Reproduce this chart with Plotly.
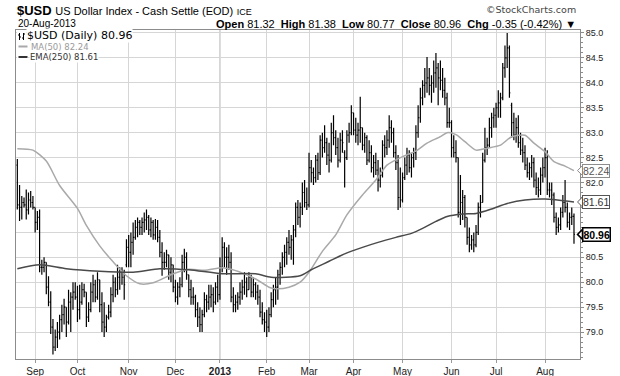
import pandas as pd
import plotly.graph_objects as go

# ---------------- data ----------------
holidays = ["2012-09-03", "2012-11-22", "2012-12-25", "2013-01-01", "2013-01-21",
            "2013-02-18", "2013-03-29", "2013-05-27", "2013-07-04"]
dates = pd.bdate_range("2012-08-22", "2013-08-20")
dates = dates[~dates.isin(pd.to_datetime(holidays))]

opens = [
    82.35, 81.55, 81.5, 81.6, 81.55, 81.45, 81.65, 81.6, 81.5, 81.2,
    81.3, 80.3, 80.3, 80.4, 79.9, 79.6, 79.1, 78.7, 78.9, 79.0,
    79.25, 79.35, 79.5, 79.2, 79.6, 79.7, 79.8, 79.7, 79.45, 79.6,
    79.85, 79.8, 79.3, 79.45, 79.8, 79.95, 79.7, 80.05, 79.55, 79.2,
    79.1, 79.3, 79.4, 79.75, 80.0, 79.85, 80.1, 80.2, 80.1, 80.35,
    80.7, 80.6, 80.8, 80.9, 81.1, 81.2, 81.1, 81.2, 81.25, 81.3,
    81.05, 81.2, 80.95, 81.1, 80.9, 80.6, 80.4, 80.4, 80.55, 80.2,
    80.35, 79.9, 79.7, 79.9, 79.95, 80.4, 80.5, 80.15, 79.85, 79.7,
    79.7, 79.45, 79.3, 79.15, 79.35, 79.65, 79.6, 79.7, 79.75, 79.6,
    79.9, 79.75, 80.3, 80.7, 80.5, 80.5, 80.4, 79.7, 79.55, 79.6,
    79.7, 79.8, 79.9, 80.0, 79.85, 80.1, 79.8, 79.95, 79.8, 79.7,
    79.4, 79.25, 79.2, 79.1, 79.35, 79.65, 79.85, 79.9, 80.15, 80.3,
    80.5, 80.6, 80.8, 80.7, 80.85, 81.05, 81.5, 81.3, 81.5, 81.8,
    81.6, 81.55, 82.3, 82.2, 82.1, 82.45, 82.2, 82.85, 82.7, 82.8,
    82.55, 82.45, 83.0, 82.9, 82.7, 82.45, 82.85, 82.6, 82.5, 82.95,
    83.0, 83.4, 83.05, 82.95, 83.05, 83.1, 82.75, 82.9, 82.45, 82.6,
    82.3, 82.4, 82.25, 82.05, 82.15, 82.75, 82.7, 82.85, 83.1, 83.0,
    82.6, 82.4, 81.7, 81.65, 82.1, 82.35, 82.55, 82.3, 82.5, 82.6,
    83.0, 83.3, 83.7, 83.95, 84.0, 84.1, 83.95, 84.0, 84.2, 84.3,
    84.1, 84.05, 83.85, 83.7, 83.2, 83.2, 82.7, 82.6, 82.5, 81.4,
    81.6, 81.7, 81.3, 80.9, 80.75, 80.85, 80.75, 81.0, 81.5, 81.6,
    82.45, 82.7, 82.75, 83.1, 83.3, 83.35, 83.5, 83.6, 83.7, 84.3,
    84.5, 84.7, 83.55, 83.2, 82.95, 83.1, 82.8, 82.65, 82.6, 82.35,
    82.2, 82.3, 82.4, 82.05, 81.9, 81.85, 82.15, 82.3, 82.5, 81.85,
    81.85, 81.75, 81.3, 81.1, 81.15, 81.4, 81.6, 81.5, 81.2, 81.3,
    81.32,
]
highs = [
    82.47, 81.95, 81.73, 81.7, 81.86, 81.8, 81.83, 81.73, 81.5, 81.43,
    81.46, 80.45, 80.5, 80.4, 80.12, 79.82, 79.26, 79.05, 79.2, 79.35,
    79.55, 79.67, 79.5, 79.85, 79.8, 80.0, 80.0, 79.93, 79.95, 80.0,
    79.97, 79.8, 79.6, 80.0, 80.15, 80.05, 80.2, 80.05, 79.8, 79.6,
    79.35, 79.55, 79.9, 80.15, 80.1, 80.35, 80.3, 80.3, 80.25, 80.86,
    80.95, 81.0, 81.2, 81.25, 81.3, 81.25, 81.3, 81.4, 81.46, 81.35,
    81.3, 81.25, 81.27, 81.25, 81.05, 80.8, 80.6, 80.65, 80.55, 80.5,
    80.35, 80.05, 80.0, 80.1, 80.55, 80.67, 80.6, 80.15, 80.05, 79.9,
    79.75, 79.6, 79.5, 79.45, 79.8, 79.75, 79.95, 79.95, 79.9, 80.0,
    80.15, 80.5, 80.9, 80.8, 80.7, 80.75, 80.6, 79.9, 79.75, 79.8,
    80.0, 80.05, 80.2, 80.1, 80.2, 80.15, 80.1, 80.0, 79.95, 79.85,
    79.6, 79.4, 79.45, 79.5, 79.8, 79.95, 80.1, 80.25, 80.4, 80.6,
    80.75, 80.9, 81.05, 80.95, 81.15, 81.6, 81.65, 81.6, 82.0, 82.05,
    81.9, 82.6, 82.45, 82.3, 82.55, 82.6, 82.95, 83.0, 83.15, 82.9,
    82.8, 83.2, 83.35, 83.05, 82.9, 83.0, 83.05, 82.65, 83.05, 83.2,
    83.55, 83.4, 83.3, 83.2, 83.72, 83.1, 83.0, 82.95, 82.85, 82.75,
    82.55, 82.6, 82.45, 82.3, 82.85, 82.95, 83.05, 83.35, 83.25, 83.1,
    82.75, 82.55, 82.3, 82.2, 82.5, 82.7, 82.65, 82.6, 82.7, 83.15,
    83.55, 83.9, 84.05, 84.3, 84.52, 84.3, 84.15, 84.45, 84.6, 84.4,
    84.45, 84.3, 84.1, 83.8, 83.5, 83.25, 82.95, 82.85, 82.5, 82.15,
    81.85, 81.75, 81.3, 81.1, 80.95, 81.0, 81.15, 81.6, 81.75, 82.6,
    83.1, 82.9, 83.3, 83.4, 83.5, 83.6, 83.85, 83.8, 84.4, 84.75,
    85.0, 84.75, 83.6, 83.4, 83.3, 83.35, 83.0, 82.9, 82.75, 82.5,
    82.4, 82.55, 82.5, 82.2, 82.1, 82.3, 82.5, 82.7, 82.65, 82.0,
    82.0, 81.8, 81.4, 81.3, 81.5, 81.75, 82.05, 81.6, 81.4, 81.5,
    81.38,
]
lows = [
    81.46, 81.23, 81.26, 81.5, 81.26, 81.36, 81.5, 81.46, 81.0, 81.05,
    80.2, 80.15, 80.2, 79.76, 79.52, 78.96, 78.55, 78.62, 78.68, 78.85,
    79.0, 79.15, 78.9, 79.15, 79.0, 79.45, 79.65, 79.2, 79.25, 79.55,
    79.7, 79.1, 79.2, 79.4, 79.6, 79.6, 79.65, 79.4, 79.0, 78.9,
    79.0, 79.25, 79.3, 79.6, 79.7, 79.75, 79.85, 79.95, 79.65, 80.3,
    80.3, 80.3, 80.55, 80.85, 80.9, 80.95, 80.95, 81.0, 81.05, 80.95,
    80.9, 80.85, 80.85, 80.8, 80.5, 80.13, 80.25, 80.3, 80.05, 80.0,
    79.8, 79.6, 79.55, 79.7, 79.9, 80.2, 80.05, 79.7, 79.55, 79.55,
    79.3, 79.1, 79.0, 79.0, 79.3, 79.4, 79.45, 79.5, 79.4, 79.55,
    79.6, 79.65, 80.2, 80.3, 80.15, 80.25, 79.6, 79.4, 79.4, 79.45,
    79.55, 79.65, 79.75, 79.7, 79.85, 79.7, 79.7, 79.65, 79.55, 79.3,
    79.15, 79.0, 78.9, 79.0, 79.3, 79.5, 79.55, 79.65, 79.95, 80.15,
    80.3, 80.35, 80.55, 80.45, 80.35, 80.9, 81.15, 81.1, 81.35, 81.5,
    81.45, 81.5, 82.0, 81.95, 82.0, 82.05, 82.15, 82.5, 82.6, 82.35,
    82.2, 82.4, 82.75, 82.55, 82.3, 82.4, 82.6, 81.9, 82.45, 82.8,
    82.95, 82.95, 82.8, 82.75, 82.8, 82.65, 82.6, 82.35, 82.4, 82.2,
    82.1, 82.15, 81.82, 81.9, 82.1, 82.5, 82.55, 82.7, 82.8, 82.5,
    82.25, 81.45, 81.5, 81.6, 82.05, 82.15, 82.2, 82.1, 82.3, 82.45,
    82.9, 83.2, 83.55, 83.7, 83.8, 83.75, 83.6, 83.8, 83.9, 83.55,
    83.85, 83.7, 83.55, 83.1, 83.1, 82.5, 82.5, 82.4, 81.3, 81.15,
    81.25, 81.1, 80.75, 80.6, 80.65, 80.6, 80.7, 80.95, 81.3, 81.6,
    82.4, 82.55, 82.7, 82.9, 83.1, 83.1, 83.3, 83.3, 83.65, 84.1,
    84.3, 83.7, 82.9, 82.85, 82.8, 82.7, 82.55, 82.4, 82.25, 82.1,
    82.05, 82.1, 81.9, 81.75, 81.7, 81.75, 82.0, 82.1, 81.75, 81.7,
    81.55, 81.2, 80.95, 81.0, 81.05, 81.3, 81.4, 81.1, 81.05, 81.15,
    80.77,
]
closes = [
    81.55, 81.5, 81.6, 81.55, 81.45, 81.65, 81.6, 81.5, 81.2, 81.3,
    80.3, 80.3, 80.4, 79.9, 79.6, 79.1, 78.7, 78.9, 79.0, 79.25,
    79.35, 79.5, 79.2, 79.6, 79.7, 79.8, 79.7, 79.45, 79.6, 79.85,
    79.8, 79.3, 79.45, 79.8, 79.95, 79.7, 80.05, 79.55, 79.2, 79.1,
    79.3, 79.4, 79.75, 80.0, 79.85, 80.1, 80.2, 80.1, 79.95, 80.7,
    80.6, 80.8, 80.9, 81.1, 81.2, 81.1, 81.2, 81.25, 81.3, 81.05,
    81.2, 80.95, 81.1, 80.9, 80.6, 80.4, 80.4, 80.55, 80.2, 80.35,
    79.9, 79.7, 79.9, 79.95, 80.4, 80.5, 80.15, 79.85, 79.7, 79.7,
    79.45, 79.3, 79.15, 79.35, 79.65, 79.6, 79.7, 79.75, 79.6, 79.9,
    79.75, 80.3, 80.7, 80.5, 80.5, 80.4, 79.7, 79.55, 79.6, 79.7,
    79.8, 79.9, 80.0, 79.85, 80.1, 79.8, 79.95, 79.8, 79.7, 79.4,
    79.25, 79.2, 79.1, 79.35, 79.65, 79.85, 79.9, 80.15, 80.3, 80.5,
    80.6, 80.8, 80.7, 80.85, 81.05, 81.5, 81.3, 81.5, 81.8, 81.6,
    81.55, 82.3, 82.2, 82.1, 82.45, 82.2, 82.85, 82.7, 82.8, 82.55,
    82.45, 83.0, 82.9, 82.7, 82.45, 82.85, 82.8, 82.5, 82.95, 83.0,
    83.4, 83.05, 82.95, 83.05, 83.1, 82.75, 82.9, 82.45, 82.6, 82.3,
    82.4, 82.25, 82.05, 82.15, 82.75, 82.7, 82.85, 83.1, 83.0, 82.6,
    82.4, 81.7, 81.65, 82.1, 82.35, 82.55, 82.3, 82.5, 82.6, 83.0,
    83.3, 83.7, 83.95, 84.0, 84.1, 83.95, 84.0, 84.2, 84.3, 84.1,
    84.05, 83.85, 83.7, 83.2, 83.2, 82.7, 82.6, 82.5, 81.4, 81.6,
    81.7, 81.3, 80.9, 80.75, 80.85, 80.75, 81.0, 81.5, 81.6, 82.45,
    82.7, 82.75, 83.1, 83.3, 83.35, 83.5, 83.6, 83.7, 84.3, 84.5,
    84.7, 83.8, 83.2, 82.95, 83.1, 82.8, 82.65, 82.6, 82.35, 82.2,
    82.3, 82.4, 82.05, 81.9, 81.85, 82.15, 82.3, 82.5, 81.85, 81.85,
    81.75, 81.3, 81.1, 81.15, 81.4, 81.6, 81.5, 81.2, 81.3, 81.32,
    80.96,
]

# overlay lines, sampled (trading-day number, value)
ma50_day = [0, 7, 13, 19, 27, 31, 37, 43, 49, 55, 61, 70, 77, 84, 92, 96, 104, 108,
            113, 116, 122, 127, 131, 137, 143, 148, 155, 161, 166, 173, 179, 184,
            190, 193, 197, 201, 206, 211, 217, 222, 228, 232, 237, 241, 246, 250]
ma50_val = [82.68, 82.65, 82.43, 81.94, 81.48, 81.14, 80.73, 80.41, 80.13, 79.97, 79.99,
            80.17, 80.26, 80.24, 80.29, 80.26, 80.13, 80.04, 79.9, 79.87, 79.9, 80.0,
            80.2, 80.62, 80.95, 81.35, 81.75, 82.05, 82.35, 82.52, 82.63, 82.79,
            82.92, 83.0, 82.96, 82.82, 82.65, 82.69, 82.75, 82.92, 82.95, 82.79,
            82.62, 82.42, 82.33, 82.24]
ema250_day = [0, 10, 22, 37, 52, 64, 77, 92, 107, 114, 127, 132, 140, 147, 155, 162,
              170, 177, 182, 188, 193, 200, 206, 213, 220, 228, 237, 250]
ema250_val = [80.27, 80.35, 80.27, 80.22, 80.2, 80.27, 80.25, 80.17, 80.17, 80.1, 80.13,
              80.25, 80.42, 80.57, 80.7, 80.8, 80.9, 80.98, 81.08, 81.22, 81.32, 81.37,
              81.38, 81.47, 81.58, 81.65, 81.67, 81.61]

y_ticks = [79.0, 79.5, 80.0, 80.5, 81.0, 81.5, 82.0, 82.5, 83.0, 83.5, 84.0, 84.5, 85.0]
y_hidden = [81.0, 81.5]          # covered by the value tags in the original

# ---------------- figure ----------------
W, H = 620, 376
ML, MR, MT, MB = 16, 40, 30, 17
PW, PH = W - ML - MR, H - MT - MB


def px(xp):
    return (xp - ML) / PW


def py(yp):
    return (H - MB - yp) / PH


days = list(range(len(dates)))
tickvals, ticktext = [], []
prev = None
for i, d in enumerate(dates):
    if prev is not None and d.month != prev:
        tickvals.append(i)
        ticktext.append("<b>2013</b>" if d.month == 1 else d.strftime("%b"))
    prev = d.month

fig = go.Figure()
fig.add_trace(go.Ohlc(
    x=days, open=opens, high=highs, low=lows, close=closes,
    increasing=dict(line=dict(color="#000000", width=1.2)),
    decreasing=dict(line=dict(color="#000000", width=1.2)),
    tickwidth=0.42, showlegend=False, hoverinfo="skip"))
fig.add_trace(go.Scatter(x=ma50_day, y=ma50_val, mode="lines",
                         line=dict(color="#a9a9a9", width=1.5, shape="spline", smoothing=0.7),
                         showlegend=False, hoverinfo="skip"))
fig.add_trace(go.Scatter(x=ema250_day, y=ema250_val, mode="lines",
                         line=dict(color="#4a4a4a", width=1.5, shape="spline", smoothing=0.7),
                         showlegend=False, hoverinfo="skip"))

fig.update_layout(
    width=W, height=H, autosize=False,
    margin=dict(l=ML, r=MR, t=MT, b=MB, pad=0, autoexpand=False),
    paper_bgcolor="white", plot_bgcolor="white",
    font=dict(family="Arial, Liberation Sans, sans-serif", color="#222222"),
    showlegend=False,
    xaxis=dict(range=[-0.6, 252.7], tickmode="array", tickvals=tickvals, ticktext=ticktext,
               showgrid=True, gridcolor="#d6d6d6", gridwidth=1, zeroline=False,
               ticks="outside", ticklen=3, tickcolor="#999999", automargin=False,
               tickfont=dict(size=10, family="Arial, Liberation Sans", color="#222222"),
               showline=True, linecolor="#8c8c8c", linewidth=1, mirror=True,
               rangeslider=dict(visible=False), fixedrange=True),
    yaxis=dict(side="right", range=[78.46, 85.06], tickmode="array", tickvals=y_ticks,
               ticktext=["" if v in y_hidden else f"{v:.1f}" for v in y_ticks],
               showgrid=True, gridcolor="#d6d6d6", gridwidth=1, zeroline=False,
               ticks="outside", ticklen=3, tickcolor="#8c8c8c", automargin=False,
               minor=dict(dtick=0.1, ticks="outside", ticklen=2, tickcolor="#8c8c8c", showgrid=False),
               tickfont=dict(size=9, family="Arial, Liberation Sans", color="#222222"),
               showline=True, linecolor="#8c8c8c", linewidth=1, mirror=True, fixedrange=True),
)

# darker year separator
jan_idx = tickvals[ticktext.index("<b>2013</b>")]
fig.add_shape(type="line", xref="x", yref="paper", x0=jan_idx, x1=jan_idx, y0=0, y1=1,
              line=dict(color="#b4b4b4", width=1), layer="below")

ann = []
# header
ann.append(dict(xref="paper", yref="paper", x=px(15), y=py(10.5), xanchor="left", yanchor="middle",
                showarrow=False,
                text="<b>$USD</b> <span style='font-size:11px'>US Dollar Index - Cash Settle (EOD)</span>"
                     " <span style='font-size:9px'>ICE</span>",
                font=dict(size=13, family="Arial, Liberation Sans", color="#000000")))
ann.append(dict(xref="paper", yref="paper", x=px(16), y=py(24), xanchor="left", yanchor="middle",
                showarrow=False, text=dates[-1].strftime("%d-%b-%Y"),
                font=dict(size=10, family="Arial, Liberation Sans", color="#000000")))
nb = "\u00a0\u00a0"
hdr = (f"<b>Open</b> {opens[-1]:.2f}{nb}<b>High</b> {highs[-1]:.2f}{nb}<b>Low</b> {lows[-1]:.2f}{nb}"
       f"<b>Close</b> {closes[-1]:.2f}{nb}<b>Chg</b> -0.35 (-0.42%) \u25bc")
ann.append(dict(xref="paper", yref="paper", x=px(578), y=py(24), xanchor="right", yanchor="middle",
                showarrow=False, text=hdr,
                font=dict(size=11, family="Arial, Liberation Sans", color="#000000")))
ann.append(dict(xref="paper", yref="paper", x=px(578), y=py(9.5), xanchor="right", yanchor="middle",
                showarrow=False, text="\u00a9StockCharts.com",
                font=dict(size=9.5, family="DejaVu Sans", color="#444444")))

# legend
ann.append(dict(xref="paper", yref="paper", x=px(26), y=py(36), xanchor="left", yanchor="middle",
                showarrow=False, text=f"$USD (Daily) {closes[-1]:.2f}", bgcolor="white", borderpad=0,
                font=dict(size=11, family="DejaVu Sans", color="#000000")))
ann.append(dict(xref="paper", yref="paper", x=px(30), y=py(46.5), xanchor="left", yanchor="middle",
                showarrow=False, text=f"MA(50) {ma50_val[-1]:.2f}", bgcolor="white", borderpad=0,
                font=dict(size=8.5, family="DejaVu Sans", color="#9a9a9a")))
ann.append(dict(xref="paper", yref="paper", x=px(29), y=py(57), xanchor="left", yanchor="middle",
                showarrow=False, text=f"EMA(250) {ema250_val[-1]:.2f}", bgcolor="white", borderpad=0,
                font=dict(size=8.5, family="DejaVu Sans", color="#333333")))

shapes = []
# legend icons
shapes.append(dict(type="rect", xref="paper", yref="paper", x0=px(17), x1=px(26), y0=py(41), y1=py(31),
                   fillcolor="white", line=dict(width=0), layer="above"))
for cx in (19.5, 23.5):
    shapes.append(dict(type="line", xref="paper", yref="paper", x0=px(cx), x1=px(cx), y0=py(33), y1=py(40),
                       line=dict(color="#000000", width=1), layer="above"))
for x0, x1, yy in ((18, 19.5, 35), (19.5, 21, 37), (22, 23.5, 38), (23.5, 25, 34)):
    shapes.append(dict(type="line", xref="paper", yref="paper", x0=px(x0), x1=px(x1), y0=py(yy), y1=py(yy),
                       line=dict(color="#000000", width=1), layer="above"))
shapes.append(dict(type="rect", xref="paper", yref="paper", x0=px(17), x1=px(29), y0=py(50), y1=py(43),
                   fillcolor="white", line=dict(width=0), layer="above"))
shapes.append(dict(type="line", xref="paper", yref="paper", x0=px(18.5), x1=px(27.5), y0=py(46.5), y1=py(46.5),
                   line=dict(color="#a9a9a9", width=2), layer="above"))
shapes.append(dict(type="rect", xref="paper", yref="paper", x0=px(17), x1=px(28), y0=py(61), y1=py(53),
                   fillcolor="white", line=dict(width=0), layer="above"))
shapes.append(dict(type="line", xref="paper", yref="paper", x0=px(18.5), x1=px(27.5), y0=py(57), y1=py(57),
                   line=dict(color="#333333", width=2), layer="above"))

# right-axis value tags
tags = [
    (ma50_val[-1], "#8c8c8c", "#555555", 1, False),
    (ema250_val[-1], "#555555", "#333333", 1, False),
    (closes[-1], "#000000", "#000000", 1.5, True),
]
for val, bc, tc, bw, bold in tags:
    txt = f"<b>{val:.2f}</b>" if bold else f"{val:.2f}"
    shapes.append(dict(type="path", xref="paper", yref="y",
                       path=f"M {px(582.5)},{val + 0.1} L {px(577.5)},{val} L {px(582.5)},{val - 0.1} Z",
                       fillcolor="white", line=dict(color=bc, width=bw), layer="above"))
    ann.append(dict(xref="paper", yref="y", x=px(582), y=val, xanchor="left", yanchor="middle",
                    showarrow=False, text=txt, bgcolor="white", bordercolor=bc, borderwidth=bw,
                    borderpad=0, font=dict(size=10.5, family="Arial, Liberation Sans", color=tc)))

fig.update_layout(annotations=ann, shapes=fig.layout.shapes + tuple(shapes))
fig.write_html("out.html", config={"displayModeBar": False},
               post_script="document.body.style.margin='0';")
